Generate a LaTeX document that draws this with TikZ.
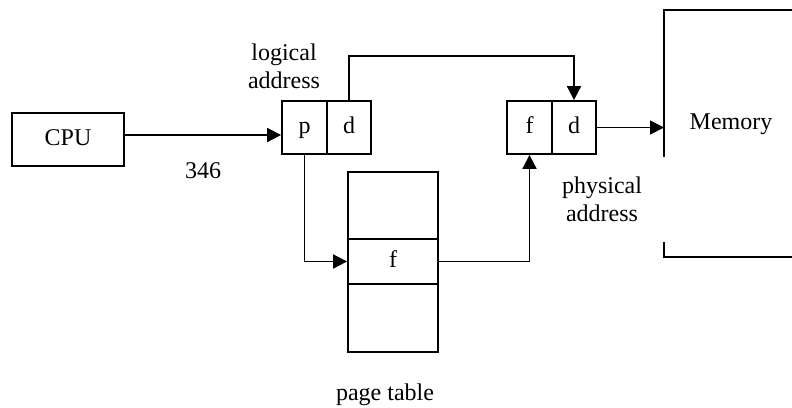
\documentclass[tikz,border=0pt]{standalone}
\usepackage{fontspec}
\setmainfont{Liberation Serif}
\usetikzlibrary{arrows.meta}

\begin{document}
\begin{tikzpicture}[x=0.5pt,y=-0.5pt,font=\fontsize{12}{14}\selectfont,
		cell/.style={draw,line width=0.9pt,minimum height=26.5pt,inner sep=0pt,text height=1.6ex,text depth=0.4ex},
		arr/.style={line width=0.9pt,-{Triangle[length=7pt,width=7pt]}}]
		\useasboundingbox (0,0) rectangle (792,407);

		\node[cell,minimum width=56pt] (cpu) at (68,139.5) {CPU};
		\node[cell,minimum width=22.5pt] (lp) at (304.5,127.5) {p};
		\node[cell,minimum width=22pt] (ld) at (349,127.5) {d};
		\node[cell,minimum width=22.5pt] (pf) at (529.5,127.5) {f};
		\node[cell,minimum width=22pt] (pd) at (574,127.5) {d};

		\node[cell,minimum width=45pt,minimum height=33.5pt] (pt1) at (393,205.5) {};
		\node[cell,minimum width=45pt,minimum height=22.5pt] (pt2) at (393,261.5) {f};
		\node[cell,minimum width=45pt,minimum height=34pt] (pt3) at (393,318) {};

		\draw[line width=0.9pt] (792,10) -- (664,10) -- (664,157);
		\draw[line width=0.9pt] (664,242) -- (664,257) -- (792,257);
		\coordinate (mem) at (664,127.5);
		\node (memtxt) at (731,124) {Memory};

		\node[align=center] (logaddr) at (284,66) {logical\\address};
		\node[align=center] (physaddr) at (602,199) {physical\\address};
		\node (num) at (203,171) {346};
		\node (pttxt) at (385,395) {page table};

		\coordinate (cpuout) at ([yshift=2.25pt]cpu.east);
		\draw[arr] (cpuout) -- (cpuout -| lp.west);
		\draw[arr] (ld.north) -- (ld.north |- 0,56) -| (pd.north);
		\draw[arr] (lp.south) |- (pt2.west);
		\draw[arr] (pt2.east) -| (pf.south);
		\draw[arr] (pd.east) -- (mem);
	\end{tikzpicture}
\end{document}
